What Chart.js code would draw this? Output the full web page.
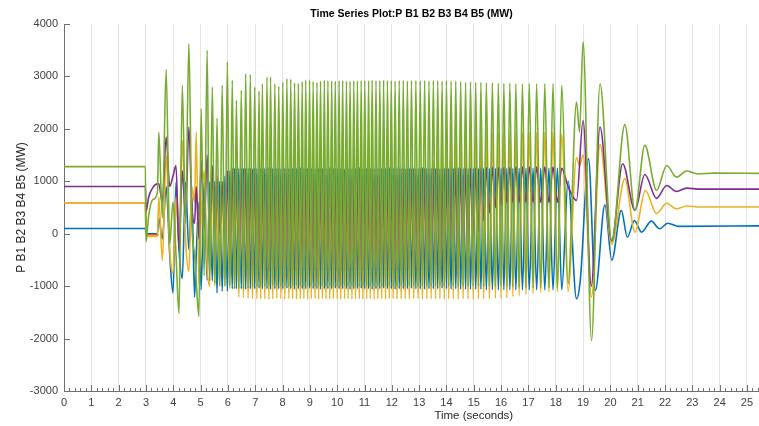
<!DOCTYPE html>
<html>
<head>
<meta charset="utf-8">
<title>Time Series Plot:P B1 B2 B3 B4 B5 (MW)</title>
<script src="https://cdn.jsdelivr.net/npm/chart.js@4.4.1/dist/chart.umd.min.js"></script>
<style>
  html, body { margin: 0; padding: 0; background: #fff; }
  canvas { display: block; }
</style>
</head>
<body>
<canvas id="plot" width="759" height="426"></canvas>
<script>
// bus powers (MW), time in seconds

// before / right after the fault at t = 3 s
const preT = [0, 2.98, 3.0, 3.1, 3.25, 3.42];
const bluePre   = [100, 100, 0, 0, 0, 0];
const redPre    = [590, 590, -20, -20, -20, -20];
const yellowPre = [590, 590, -50, -50, -50, -50];
const purplePre = [900, 900, 420, 700, 880, 950];
const greenPre  = [1280, 1280, -150, 350, 650, 790];

// transient after the fault (irregular swings)
const transT = [
  3.47, 3.60, 3.74, 3.87, 3.99, 4.10, 4.21, 4.33, 4.45, 4.57,
  4.68, 4.78, 4.84, 4.94, 5.02, 5.13, 5.24, 5.33, 5.43, 5.52,
  5.60, 5.70, 5.79, 5.89, 5.98, 6.07, 6.16, 6.24, 6.31, 6.40
];
const greenTrans  = [
  1940, 300, 3130, -200, 600, -400, -1520, 2830, 200, 3625,
  200, -400, -900, -1580, 2385, -800, 3500, -900, 2800, -950,
  2200, -1000, 2830, -1000, 3275, -1000, 2925, -1050, 2545, -1050
];
const purpleTrans = [
  950, 600, 1845, 900, 1100, 1300, -320, 1200, 300, 2035,
  500, 200, 900, -100, 1400, 100, 1500, -100, 1300, -200,
  1100, 0, 1000, -300, 1200, -400, 1250, -500, 1250, -600
];
const yellowTrans = [
  700, -510, 1495, -300, -760, 700, -200, 1780, -100, -720,
  900, 600, 1940, -955, 300, 1200, -600, -1000, 1200, -1000,
  900, -1000, 1000, -1000, 1100, -1050, 1100, -1050, 1100, -1210
];
const blueTrans   = [
  300, -100, 900, -400, -1130, 980, -300, -855, 985, -300,
  700, -1210, -400, 600, -1070, 985, -890, 985, -900, 1000,
  -1130, 1000, -1100, 1100, -1100, 1200, -1050, 1250, -1050, 1250
];

// sustained swing: green peak, green trough, green peak, ...
const oscT = [
  6.49, 6.57, 6.65, 6.74, 6.82, 6.90, 6.98, 7.06, 7.14, 7.20,
  7.26, 7.35, 7.43, 7.50, 7.56, 7.64, 7.72, 7.79, 7.86, 7.94,
  8.01, 8.08, 8.16, 8.23, 8.30, 8.37, 8.44, 8.51, 8.58, 8.65,
  8.72, 8.78, 8.85, 8.92, 8.99, 9.05, 9.12, 9.19, 9.26, 9.32,
  9.39, 9.46, 9.53, 9.59, 9.66, 9.73, 9.80, 9.86, 9.93, 10.00,
  10.07, 10.13, 10.20, 10.27, 10.34, 10.40, 10.47, 10.54, 10.61, 10.67,
  10.74, 10.81, 10.88, 10.94, 11.01, 11.08, 11.15, 11.21, 11.28, 11.35,
  11.42, 11.49, 11.56, 11.63, 11.70, 11.77, 11.84, 11.91, 11.98, 12.05,
  12.12, 12.19, 12.27, 12.34, 12.42, 12.49, 12.57, 12.64, 12.72, 12.80,
  12.88, 12.96, 13.04, 13.12, 13.20, 13.28, 13.36, 13.44, 13.52, 13.60,
  13.68, 13.76, 13.84, 13.92, 14.00, 14.08, 14.17, 14.25, 14.34, 14.43,
  14.52, 14.61, 14.70, 14.79, 14.88, 14.98, 15.07, 15.17, 15.26, 15.36,
  15.46, 15.57, 15.68, 15.79, 15.90, 16.00, 16.10, 16.21, 16.32, 16.43,
  16.54, 16.66, 16.78, 16.91, 17.03, 17.17, 17.30, 17.45, 17.60, 17.75,
  17.90, 18.06, 18.22
];
const greenOsc = [
  2735, -1050, 3050, -1040, 3040, -1020, 2800, -1010, 2720, -1000,
  2860, -1010, 2990, -1000, 2990, -990, 2860, -1000, 2810, -1010,
  2890, -1000, 2960, -1010, 2950, -1000, 2880, -990, 2870, -1000,
  2900, -1010, 2930, -1000, 2930, -1000, 2900, -1010, 2890, -1000,
  2910, -1000, 2930, -1010, 2920, -1000, 2910, -1000, 2910, -1010,
  2920, -1000, 2920, -1000, 2910, -1010, 2910, -1000, 2920, -1000,
  2910, -1010, 2920, -1000, 2920, -1000, 2920, -1010, 2930, -1000,
  2920, -1000, 2920, -1010, 2930, -1000, 2920, -1000, 2920, -1010,
  2910, -1000, 2920, -1000, 2920, -1010, 2910, -1000, 2920, -1000,
  2920, -1010, 2910, -1000, 2920, -1000, 2910, -1010, 2920, -1000,
  2920, -1000, 2910, -1010, 2920, -1000, 2910, -1000, 2910, -1010,
  2900, -1000, 2890, -1010, 2900, -1000, 2890, -1000, 2890, -1010,
  2880, -1000, 2880, -1010, 2870, -1000, 2870, -1010, 2870, -1010,
  2860, -1020, 2860, -1020, 2860, -1030, 2860, -1030, 2860, -1030,
  2860, -1040, 2830
];
const purpleOsc = [
  1250, -600, 1250, -650, 1250, -700, 1250, -700, 1250, -700,
  1240, -700, 1250, -720, 1260, -700, 1250, -680, 1250, -700,
  1250, -700, 1240, -710, 1250, -700, 1260, -690, 1250, -700,
  1250, -700, 1250, -700, 1240, -720, 1250, -700, 1250, -700,
  1260, -700, 1250, -690, 1250, -700, 1240, -700, 1250, -710,
  1250, -700, 1250, -700, 1260, -700, 1250, -720, 1250, -700,
  1240, -700, 1250, -700, 1250, -690, 1250, -700, 1260, -700,
  1250, -710, 1250, -700, 1240, -700, 1250, -700, 1250, -700,
  1250, -700, 1260, -700, 1250, -700, 1250, -690, 1250, -700,
  1250, -700, 1250, -700, 1250, -700, 1240, -700, 1250, -710,
  1250, -700, 1250, -680, 1250, -670, 1250, -650, 1250, -600,
  1250, -500, 1250, -350, 1250, -150, 1250, 50, 1250, 250,
  1260, 400, 1260, 500, 1260, 550, 1260, 600, 1260, 600,
  1270, 600, 1270, 600, 1270, 600, 1270, 600, 1270, 600,
  1270, 600, 1250
];
const yellowOsc = [
  1100, -1220, 1100, -1230, 1100, -1240, 1100, -1240, 1100, -1240,
  1100, -1240, 1100, -1250, 1100, -1240, 1100, -1230, 1100, -1240,
  1100, -1250, 1100, -1240, 1100, -1240, 1100, -1250, 1100, -1240,
  1100, -1240, 1100, -1250, 1100, -1240, 1100, -1240, 1100, -1250,
  1100, -1240, 1100, -1240, 1100, -1250, 1100, -1240, 1100, -1240,
  1100, -1250, 1100, -1240, 1100, -1240, 1100, -1250, 1100, -1240,
  1100, -1240, 1100, -1250, 1100, -1240, 1100, -1240, 1100, -1250,
  1100, -1240, 1100, -1240, 1100, -1250, 1100, -1240, 1100, -1240,
  1100, -1250, 1100, -1240, 1100, -1240, 1100, -1250, 1100, -1240,
  1100, -1240, 1100, -1250, 1150, -1240, 1250, -1240, 1400, -1240,
  1550, -1240, 1700, -1250, 1850, -1240, 1920, -1240, 1930, -1250,
  1930, -1240, 1930, -1240, 1930, -1250, 1930, -1240, 1930, -1240,
  1930, -1240, 1930, -1230, 1930, -1230, 1930, -1220, 1930, -1200,
  1930, -1180, 1930, -1160, 1930, -1140, 1930, -1120, 1930, -1110,
  1930, -1100, 1900
];
const blueOsc = [
  -1050, 1250, -1060, 1250, -1050, 1240, -1050, 1250, -1040, 1250,
  -1050, 1250, -1050, 1260, -1060, 1250, -1050, 1250, -1050, 1240,
  -1050, 1250, -1040, 1250, -1050, 1250, -1060, 1250, -1050, 1260,
  -1050, 1250, -1050, 1250, -1040, 1250, -1050, 1240, -1050, 1250,
  -1060, 1250, -1050, 1250, -1050, 1260, -1050, 1250, -1040, 1250,
  -1050, 1250, -1050, 1240, -1050, 1250, -1060, 1250, -1050, 1250,
  -1050, 1260, -1040, 1250, -1050, 1250, -1050, 1250, -1060, 1240,
  -1050, 1250, -1050, 1250, -1040, 1250, -1050, 1260, -1050, 1250,
  -1060, 1250, -1050, 1250, -1050, 1240, -1050, 1250, -1040, 1250,
  -1050, 1250, -1050, 1260, -1060, 1250, -1050, 1250, -1050, 1250,
  -1050, 1240, -1040, 1250, -1050, 1250, -1060, 1250, -1050, 1260,
  -1060, 1250, -1060, 1250, -1060, 1250, -1060, 1250, -1060, 1250,
  -1070, 1250, -1070, 1250, -1070, 1250, -1070, 1250, -1070, 1250,
  -1070, 1250, -1070, 1250, -1070, 1250, -1070, 1250, -1070, 1250,
  -1070, 1250, -1070
];

// loss of the swing and settling after ~18.3 s
const greenTailT  = [18.45, 18.76, 18.87, 19.0, 19.31, 19.62, 20.05, 20.53, 20.9, 21.26, 21.69, 22.06, 22.42, 22.79, 23.2, 23.8, 25.5];
const greenTail   = [-950, 2510, 1940, 3660, -2040, 2860, -150, 2080, 445, 1685, 825, 1300, 1080, 1195, 1140, 1155, 1150];
const purpleTailT = [18.45, 18.76, 19.0, 19.3, 19.62, 20.05, 20.45, 20.9, 21.26, 21.69, 22.06, 22.42, 22.79, 23.3, 25.5];
const purpleTail  = [900, 635, 2160, -1000, 2035, -130, 1335, 445, 1130, 675, 920, 805, 870, 850, 850];
const yellowTailT = [18.45, 18.76, 18.87, 19.0, 19.31, 19.62, 20.05, 20.53, 20.9, 21.28, 21.69, 22.06, 22.42, 22.79, 23.3, 25.5];
const yellowTail  = [-1100, 1450, 1300, 1500, -1210, 1700, -200, 1050, 30, 825, 385, 580, 475, 530, 510, 510];
const blueTailT   = [18.45, 18.76, 18.9, 19.2, 19.45, 19.8, 20.05, 20.4, 20.62, 20.88, 21.14, 21.5, 21.8, 22.1, 22.5, 25.5];
const blueTail    = [1000, -1240, -880, 1430, -1080, 550, -505, 445, -65, 250, 30, 240, 95, 200, 140, 150];
const redTailT    = [3.47];
const redTail     = [-20];

const xTicks = [0, 1, 2, 3, 4, 5, 6, 7, 8, 9, 10, 11, 12, 13, 14, 15, 16, 17, 18, 19, 20, 21, 22, 23, 24, 25];
const yTicks = [-3000, -2000, -1000, 0, 1000, 2000, 3000, 4000];

function pts(t, v) {
    return t.map(function (x, i) { return { x: x, y: v[i] }; });
}

const FONT = "'Liberation Sans', Arial, Helvetica, sans-serif";

// minor ticks, inward major ticks and the titles
const decor = {
    id: 'decor',
    afterDraw: function (chart) {
        const c = chart.ctx;
        const xs = chart.scales.x, ys = chart.scales.y;
        const a = chart.chartArea;
        c.save();
        c.strokeStyle = '#707070';
        c.lineWidth = 1;
        c.beginPath();
        for (let i = 0; i <= 127; i++) {
            const v = i / 5;
            if (v > xs.max) break;
            const px = Math.round(xs.getPixelForValue(v)) + 0.5;
            const len = (i % 5 === 0) ? 6 : 3;
            c.moveTo(px, a.bottom);
            c.lineTo(px, a.bottom - len);
        }
        yTicks.forEach(function (v) {
            const py = Math.round(ys.getPixelForValue(v)) + 0.5;
            c.moveTo(a.left, py);
            c.lineTo(a.left + 6, py);
        });
        c.stroke();

        c.fillStyle = '#000';
        c.font = 'bold 10.5px ' + FONT;
        c.textAlign = 'center';
        c.textBaseline = 'middle';
        c.fillText('Time Series Plot:P B1 B2 B3 B4 B5 (MW)', (a.left + a.right) / 2, 14);

        c.fillStyle = '#262626';
        c.font = '11.5px ' + FONT;
        c.fillText('Time (seconds)', xs.getPixelForValue(15), 416);

        c.font = '12px ' + FONT;
        c.translate(22, (a.top + a.bottom) / 2);
        c.rotate(-Math.PI / 2);
        c.fillText('P B1 B2 B3 B4 B5 (MW)', 0, 0);
        c.restore();
    }
};

function line(label, color, order, parts) {
    let data = [];
    parts.forEach(function (p) { data = data.concat(pts(p[0], p[1])); });
    return {
        label: label,
        data: data,
        borderColor: color,
        backgroundColor: color,
        borderWidth: 1.6,
        pointRadius: 0,
        fill: false,
        cubicInterpolationMode: 'monotone',
        order: order
    };
}

const ctx = document.getElementById('plot').getContext('2d');
const chart = new Chart(ctx, {
    type: 'line',
    data: {
        datasets: [
            line('P B5', '#77AC30', 1, [[preT, greenPre], [transT, greenTrans], [oscT, greenOsc], [greenTailT, greenTail]]),
            line('P B4', '#7E2F8E', 2, [[preT, purplePre], [transT, purpleTrans], [oscT, purpleOsc], [purpleTailT, purpleTail]]),
            line('P B3', '#EDB120', 3, [[preT, yellowPre], [transT, yellowTrans], [oscT, yellowOsc], [yellowTailT, yellowTail]]),
            line('P B2', '#D95319', 4, [[preT, redPre], [redTailT, redTail]]),
            line('P B1', '#0072BD', 5, [[preT, bluePre], [transT, blueTrans], [oscT, blueOsc], [blueTailT, blueTail]])
        ]
    },
    options: {
        responsive: false,
        animation: false,
        devicePixelRatio: 1,
        layout: { padding: { top: 24, right: 0, bottom: 0, left: 0 } },
        plugins: {
            legend: { display: false },
            title: { display: false },
            tooltip: { enabled: false }
        },
        scales: {
            x: {
                type: 'linear',
                min: 0,
                max: 25.44,
                afterBuildTicks: function (s) { s.ticks = xTicks.map(function (v) { return { value: v }; }); },
                afterFit: function (s) { s.height = 35; },
                ticks: { autoSkip: false, maxRotation: 0, padding: 5, color: '#404040', font: { family: FONT, size: 11 },
                         callback: function (v) { return String(v); } },
                grid: { color: '#e3e3e3', lineWidth: 1, drawTicks: false },
                border: { display: true, color: '#707070', width: 1 }
            },
            y: {
                type: 'linear',
                min: -3000,
                max: 4000,
                afterBuildTicks: function (s) { s.ticks = yTicks.map(function (v) { return { value: v }; }); },
                afterFit: function (s) { s.width = 64; },
                ticks: { padding: 6, color: '#404040', font: { family: FONT, size: 11 },
                         callback: function (v) { return String(v); } },
                grid: { display: false, drawTicks: false },
                border: { display: true, color: '#707070', width: 1 }
            }
        }
    },
    plugins: [decor]
});
</script>
</body>
</html>
